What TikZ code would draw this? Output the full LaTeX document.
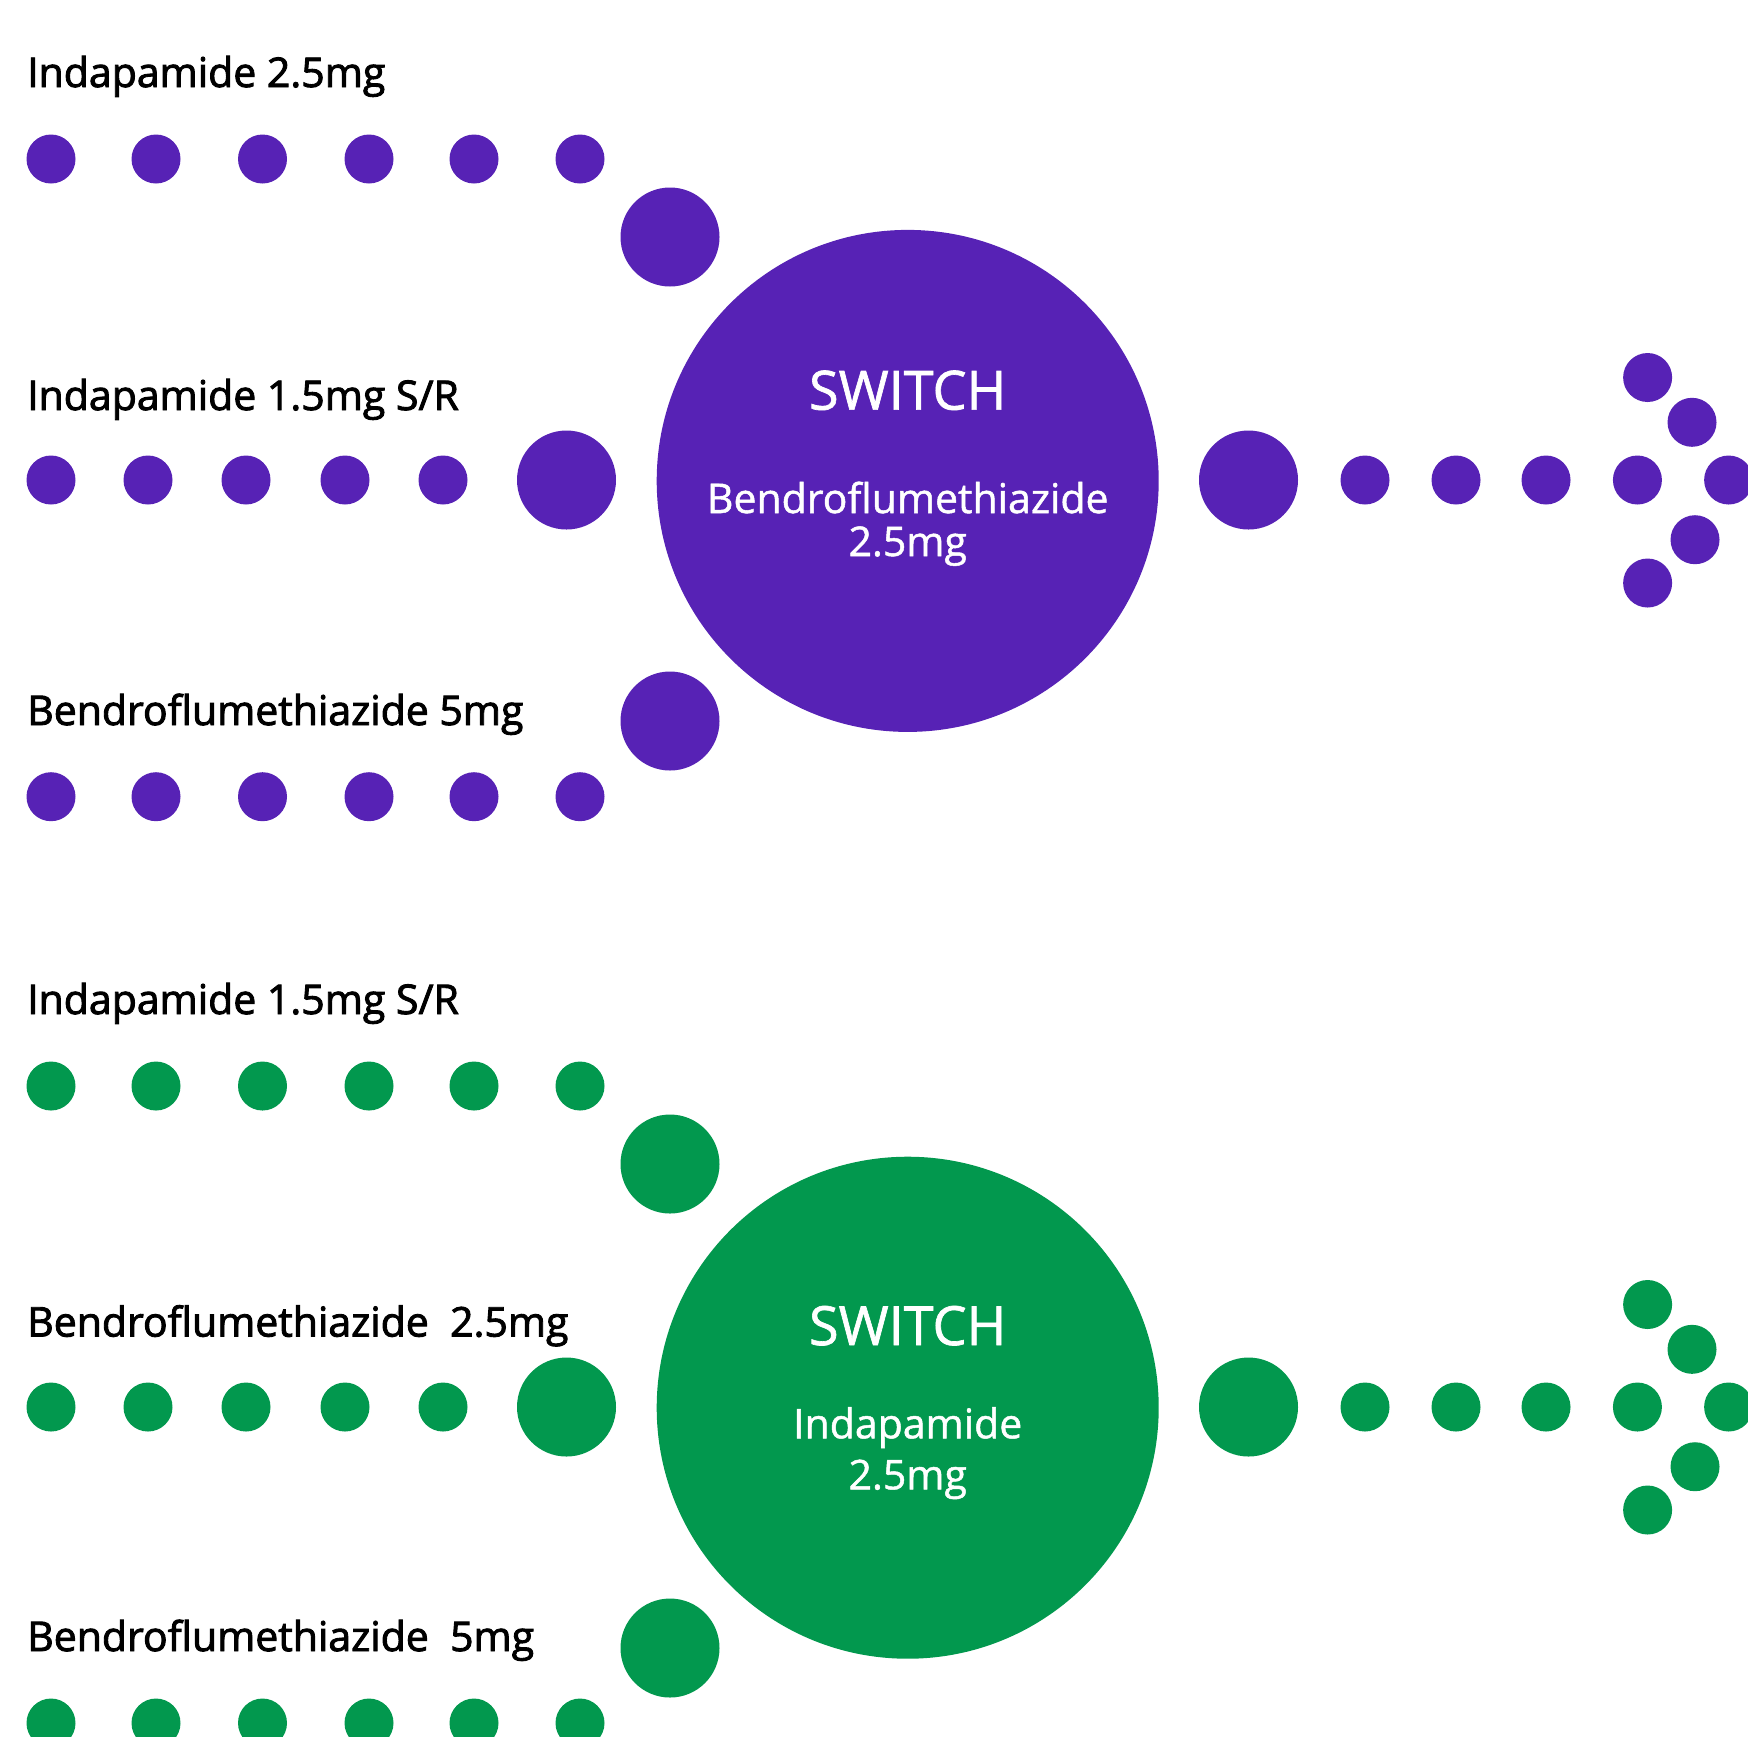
\documentclass[tikz,border=0pt]{standalone}
\usepackage{fontspec}
\setmainfont{Open Sans}
\newfontfamily\lblfont[FakeBold=2.2]{Open Sans}
\newfontfamily\inwfont[FakeBold=1.2]{Open Sans}
\definecolor{pur}{HTML}{5722B5}
\definecolor{grn}{HTML}{02984E}
\begin{document}
\begin{tikzpicture}[x=0.5pt,y=-0.5pt,
  dot/.style={circle,inner sep=0pt,minimum size=24.5pt},
  mid/.style={circle,inner sep=0pt,minimum size=49.5pt},
  big/.style={circle,inner sep=0pt,minimum size=251pt},
  lbl/.style={anchor=base west,inner sep=0pt,text=black,font=\lblfont\fontsize{20.5}{24}\selectfont},
  swt/.style={anchor=base,inner sep=0pt,text=white,font=\inwfont\fontsize{27}{30}\selectfont},
  drug/.style={anchor=base,inner sep=0pt,text=white,font=\inwfont\fontsize{20.5}{24}\selectfont}]
\useasboundingbox (0,0) rectangle (1748,1736);
\clip (0,0) rectangle (1748,1736);
% ---------- purple section ----------
\node[lbl] (pl1) at (26.8,87) {Indapamide 2.5mg};
\foreach \x [count=\i] in {51,156,262.5,369,474,580}
  \node[dot,fill=pur] (pa\i) at (\x,159) {};
\node[mid,fill=pur] (pam) at (670,237) {};
\node[lbl] (pl2) at (26.8,410) {Indapamide 1.5mg S/R};
\foreach \x [count=\i] in {51,148,246,345,443}
  \node[dot,fill=pur] (pb\i) at (\x,480) {};
\node[mid,fill=pur] (pbm) at (566.5,480) {};
\node[lbl] (pl3) at (26.8,725) {Bendroflumethiazide 5mg};
\node[mid,fill=pur] (pcm) at (670,721) {};
\foreach \x [count=\i] in {51,156,262.5,369,474,580}
  \node[dot,fill=pur] (pc\i) at (\x,796.7) {};
\node[big,fill=pur] (pbig) at (907.7,480.9) {};
\node[swt] (psw) at (907.7,409.6) {SWITCH};
\node[drug] (pd1) at (907.7,513) {Bendroflumethiazide};
\node[drug] (pd2) at (907.7,556) {2.5mg};
\node[mid,fill=pur] (prm) at (1248.5,480) {};
\foreach \x [count=\i] in {1365,1456,1546,1637.4,1728.6}
  \node[dot,fill=pur] (pr\i) at (\x,480) {};
\node[dot,fill=pur] (pu1) at (1647.6,377.5) {};
\node[dot,fill=pur] (pu2) at (1692,422.3) {};
\node[dot,fill=pur] (pw2) at (1695,539.7) {};
\node[dot,fill=pur] (pw1) at (1647.6,583) {};
% ---------- green section ----------
\node[lbl] (gl1) at (26.8,1014) {Indapamide 1.5mg S/R};
\foreach \x [count=\i] in {51,156,262.5,369,474,580}
  \node[dot,fill=grn] (ga\i) at (\x,1086) {};
\node[mid,fill=grn] (gam) at (670,1164) {};
\node[lbl] (gl2) at (26.8,1336.5) {Bendroflumethiazide\ \ 2.5mg};
\foreach \x [count=\i] in {51,148,246,345,443}
  \node[dot,fill=grn] (gb\i) at (\x,1407) {};
\node[mid,fill=grn] (gbm) at (566.5,1407) {};
\node[lbl] (gl3) at (26.8,1651) {Bendroflumethiazide\ \ 5mg};
\node[mid,fill=grn] (gcm) at (670,1648) {};
\foreach \x [count=\i] in {51,156,262.5,369,474,580}
  \node[dot,fill=grn] (gc\i) at (\x,1723) {};
\node[big,fill=grn] (gbig) at (907.7,1407.7) {};
\node[swt] (gsw) at (907.7,1345) {SWITCH};
\node[drug] (gd1) at (907.7,1438.3) {Indapamide};
\node[drug] (gd2) at (907.7,1489.3) {2.5mg};
\node[mid,fill=grn] (grm) at (1248.5,1407) {};
\foreach \x [count=\i] in {1365,1456,1546,1637.4,1728.6}
  \node[dot,fill=grn] (gr\i) at (\x,1407) {};
\node[dot,fill=grn] (gu1) at (1647.6,1304.5) {};
\node[dot,fill=grn] (gu2) at (1692,1349.3) {};
\node[dot,fill=grn] (gw2) at (1695,1466.7) {};
\node[dot,fill=grn] (gw1) at (1647.6,1510) {};
\end{tikzpicture}
\end{document}
